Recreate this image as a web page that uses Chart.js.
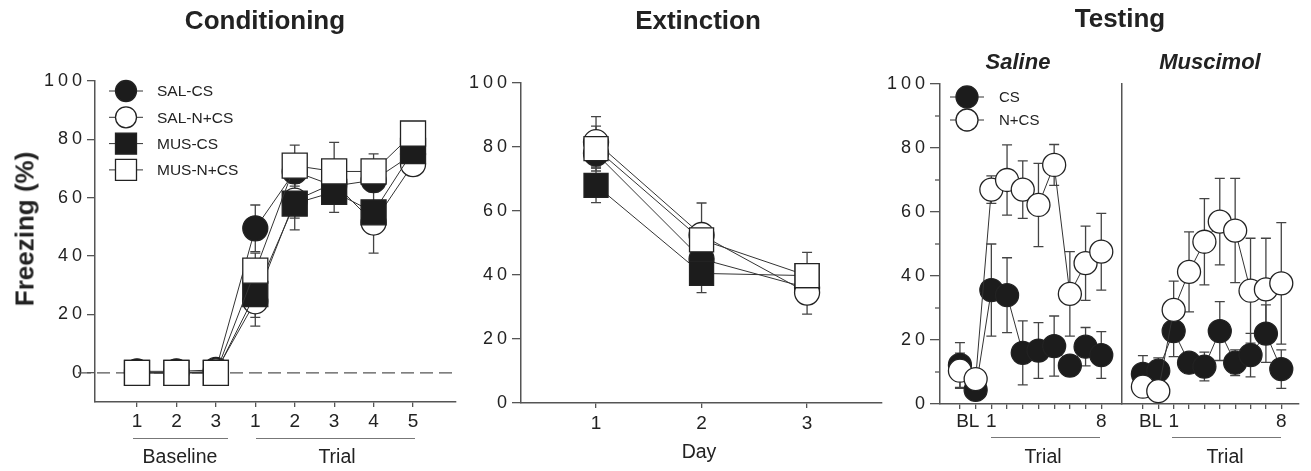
<!DOCTYPE html>
<html>
<head>
<meta charset="utf-8">
<script src="https://cdn.jsdelivr.net/npm/chart.js@4.4.0/dist/chart.umd.min.js"></script>
<style>
  body { margin: 0; background: #fff; font-family: "Liberation Sans", Arial, Helvetica, sans-serif; color: #222; }
  #wrap { position: relative; width: 1311px; height: 471px; overflow: hidden; }
  canvas { position: absolute; left: 0; top: 0; }
  .lbl { position: absolute; white-space: nowrap; transform: translate(-50%, -50%); font-size: 19.5px; }
  .title { font-weight: bold; font-size: 26px; }
  .sub { font-weight: bold; font-style: italic; font-size: 22px; }
  .rule { position: absolute; height: 0; border-top: 1.5px solid #777; }
</style>
</head>
<body>
<div id="wrap">
  <canvas id="cond" width="1311" height="471"></canvas>
  <canvas id="ext" width="1311" height="471"></canvas>
  <canvas id="sal" width="1311" height="471"></canvas>
  <canvas id="mus" width="1311" height="471"></canvas>

  <div class="lbl title" style="left:265px;top:20px">Conditioning</div>
  <div class="lbl title" style="left:698px;top:20px">Extinction</div>
  <div class="lbl title" style="left:1120px;top:18px">Testing</div>
  <div class="lbl sub" style="left:1018px;top:62px">Saline</div>
  <div class="lbl sub" style="left:1210px;top:62px">Muscimol</div>
  <div class="lbl title" style="left:25px;top:229px;transform:translate(-50%,-50%) rotate(-90deg)">Freezing (%)</div>

  <div class="rule" style="left:133px;top:438px;width:95px"></div>
  <div class="rule" style="left:256px;top:438px;width:159px"></div>
  <div class="lbl" style="left:180px;top:456px">Baseline</div>
  <div class="lbl" style="left:337px;top:456px">Trial</div>
  <div class="lbl" style="left:699px;top:451px">Day</div>
  <div class="rule" style="left:991px;top:437px;width:109px"></div>
  <div class="rule" style="left:1172px;top:437px;width:109px"></div>
  <div class="lbl" style="left:1043px;top:456px">Trial</div>
  <div class="lbl" style="left:1225px;top:456px">Trial</div>
</div>
<script>
// ---- data ----
const condSeries = ["SAL-CS", "SAL-N+CS", "MUS-CS", "MUS-N+CS"];
const condX = [1, 2, 3, 4, 5, 6, 7, 8];
const condTickLabels = ["1", "2", "3", "1", "2", "3", "4", "5"];
const condSalCs = [0.5, 0.5, 1, 49.5, 69, 64, 66, 75];
const condSalCsErr = [0, 0, 0, 8, 4, 5, 3, 3];
const condSalNcs = [0, 0, 0.5, 24.5, 59, 65, 51.5, 71.5];
const condSalNcsErr = [0, 0, 0, 8.5, 6, 4, 10.5, 3];
const condMusCs = [0, 0, 0, 27, 58, 62, 55, 76];
const condMusCsErr = [0, 0, 0, 8, 9, 7, 4, 3];
const condMusNcs = [0, 0, 0, 35, 71, 69, 69, 82];
const condMusNcsErr = [0, 0, 0, 6, 7, 10, 6, 3];

const extX = [1, 2, 3];
const extSalCs = [78, 45, 36];
const extSalCsErr = [4, 5, 3];
const extSalNcs = [81.5, 52.5, 34.5];
const extSalNcsErr = [8, 10, 6.7];
const extMusCs = [68, 40.5, 39.8];
const extMusCsErr = [5.4, 6, 3];
const extMusNcs = [79.5, 51, 39.8];
const extMusNcsErr = [7, 5, 7.3];

const testSeries = ["CS", "N+CS"];
const testX = [0, 1, 2, 3, 4, 5, 6, 7, 8, 9];
const testLabelPos = [0.5, 2, 9];
const testLabelText = ["BL", "1", "8"];
const salCs = [12.2, 4.4, 35.6, 34, 16, 16.7, 18.1, 12, 17.9, 15.3];
const salCsErr = [7, 2, 14.4, 11.7, 10, 8.7, 9.4, 3, 6, 7.3];
const salNcs = [10.4, 7.8, 67, 70, 67, 62.2, 74.7, 34.4, 44, 47.6];
const salNcsErr = [5.5, 3, 4.3, 11, 9, 13, 6.4, 13.2, 11.6, 12];
const musCs = [9.4, 10.4, 22.8, 12.9, 11.7, 22.8, 12.9, 15.3, 22, 10.9];
const musCsErr = [5.7, 4, 8, 3, 4.5, 9.2, 4, 6.8, 9, 6];
const musNcs = [5.4, 4, 29.4, 41.3, 50.7, 57, 54.2, 35.4, 35.8, 37.7];
const musNcsErr = [3, 2, 9, 12.5, 13.5, 13.5, 16.3, 16.4, 16, 19];

const yTicks = [0, 20, 40, 60, 80, 100];
const yMinorTicks = [10, 30, 50, 70, 90];

// ---- helpers ----
const W = 1311, H = 471;
const FONT = '"Liberation Sans", Arial, Helvetica, sans-serif';
const AXIS = "#555";
const INK = "#222";
const BLACK = "#1c1c1c";
const WHITE = "#ffffff";

const errorBars = {
  id: "errorBars",
  beforeDatasetsDraw(chart) {
    const { ctx, scales: { x, y } } = chart;
    ctx.save();
    ctx.strokeStyle = "#444";
    ctx.lineWidth = 1.3;
    chart.data.datasets.forEach((ds) => {
      if (!ds.errors) return;
      ds.data.forEach((p, i) => {
        const e = ds.errors[i];
        if (!e) return;
        const px = x.getPixelForValue(p.x);
        const top = y.getPixelForValue(p.y + e);
        const bot = y.getPixelForValue(p.y - e);
        ctx.beginPath();
        ctx.moveTo(px, top); ctx.lineTo(px, bot);
        ctx.moveTo(px - 5, top); ctx.lineTo(px + 5, top);
        ctx.moveTo(px - 5, bot); ctx.lineTo(px + 5, bot);
        ctx.stroke();
      });
    });
    ctx.restore();
  },
};

const zeroLine = {
  id: "zeroLine",
  beforeDatasetsDraw(chart, args, opts) {
    if (!opts.show) return;
    const { ctx, chartArea, scales: { y } } = chart;
    const py = y.getPixelForValue(0);
    ctx.save();
    ctx.setLineDash([13, 6]);
    ctx.strokeStyle = "#555";
    ctx.lineWidth = 1.3;
    ctx.beginPath();
    ctx.moveTo(chartArea.left - 17, py);
    ctx.lineTo(chartArea.right - 4, py);
    ctx.stroke();
    ctx.restore();
  },
};

const extras = {
  id: "extras",
  beforeDraw(chart, args, opts) {
    // wide tracking of the tick numbers
    chart.ctx.letterSpacing = opts.spacing || "0px";
  },
  afterDraw(chart, args, opts) {
    const { ctx, chartArea, scales: { x, y } } = chart;
    ctx.save();
    ctx.letterSpacing = "0px";
    if (opts.minor) {
      ctx.strokeStyle = AXIS;
      ctx.lineWidth = 1.3;
      opts.minor.forEach((v) => {
        const py = y.getPixelForValue(v);
        ctx.beginPath();
        ctx.moveTo(chartArea.left - 5, py);
        ctx.lineTo(chartArea.left, py);
        ctx.stroke();
      });
    }
    if (opts.xLabels) {
      ctx.fillStyle = INK;
      ctx.font = "19px " + FONT;
      ctx.textAlign = "center";
      ctx.textBaseline = "middle";
      opts.xLabels.pos.forEach((v, i) => {
        ctx.fillText(opts.xLabels.text[i], x.getPixelForValue(v), 422);
      });
    }
    if (opts.legend) {
      const L = opts.legend;
      L.items.forEach((it, i) => {
        const cy = L.y + i * L.gap;
        ctx.strokeStyle = "#333";
        ctx.lineWidth = 1;
        ctx.beginPath();
        ctx.moveTo(L.x - 17, cy);
        ctx.lineTo(L.x + 17, cy);
        ctx.stroke();
        ctx.fillStyle = it.fill;
        ctx.strokeStyle = INK;
        ctx.lineWidth = 1.3;
        ctx.beginPath();
        if (it.shape === "rect") ctx.rect(L.x - L.size / 2, cy - L.size / 2, L.size, L.size);
        else ctx.arc(L.x, cy, L.size / 2, 0, Math.PI * 2);
        ctx.fill();
        ctx.stroke();
        ctx.fillStyle = INK;
        ctx.font = L.font + " " + FONT;
        ctx.textAlign = "left";
        ctx.textBaseline = "middle";
        ctx.fillText(it.label, L.textX, cy + 1);
      });
    }
    ctx.restore();
  },
};

Chart.register(errorBars, zeroLine, extras);

function series(label, xs, ys, errs, shape, fill, radius, order) {
  return {
    label,
    data: xs.map((x, i) => ({ x, y: ys[i] })),
    errors: errs,
    borderColor: "#333",
    borderWidth: 1,
    pointStyle: shape,
    pointRadius: radius,
    pointBackgroundColor: fill,
    pointBorderColor: INK,
    pointBorderWidth: 1.3,
    order,
    clip: false,
    tension: 0,
  };
}

// scale boxes fill the space outside the plot area, so their labels are not clipped
function xAxis(area, min, max, ticks, labels, pad) {
  return {
    type: "linear", min, max,
    afterFit: (s) => { s.height = H - area[3]; },
    afterBuildTicks: (s) => { s.ticks = ticks.map((v) => ({ value: v })); },
    ticks: {
      autoSkip: false, maxRotation: 0, padding: pad, labelOffset: 2, color: INK,
      font: { family: FONT, size: 19 },
      callback: (v, i) => (labels ? labels[i] : ""),
    },
    grid: { drawOnChartArea: false, drawTicks: true, tickLength: 5, color: AXIS, lineWidth: 1.3 },
    border: { display: true, color: AXIS, width: 1.5 },
  };
}

function yAxis(area, min, max, show, tickLen) {
  return {
    type: "linear", min, max,
    afterFit: (s) => { s.width = area[0]; },
    afterBuildTicks: (s) => { s.ticks = yTicks.map((v) => ({ value: v })); },
    ticks: { display: show, padding: 1, color: INK, font: { family: FONT, size: 18 } },
    grid: { display: show, drawOnChartArea: false, drawTicks: true, tickLength: tickLen, color: AXIS, lineWidth: 1.3 },
    border: { display: true, color: AXIS, width: 1.5 },
  };
}

function panel(id, area, xr, xTicks, xLabels, xPad, showY, yMin, yLen, datasets, pluginOpts) {
  return new Chart(document.getElementById(id), {
    type: "line",
    data: { datasets },
    options: {
      responsive: false,
      animation: false,
      events: [],
      layout: { padding: { left: 0, top: area[1], right: W - area[2], bottom: 0 } },
      plugins: Object.assign({ legend: { display: false }, tooltip: { enabled: false } }, pluginOpts),
      scales: {
        x: xAxis(area, xr[0], xr[1], xTicks, xLabels, xPad),
        y: yAxis(area, yMin, 100, showY, yLen),
      },
    },
  });
}

// ---- Conditioning ----
const condArea = [95, 81, 456, 402];
panel("cond", condArea, [-0.065, 9.09], condX, condTickLabels, 3, true, -10, 8,
  [
    series(condSeries[0], condX, condSalCs, condSalCsErr, "circle", BLACK, 12.5, 3),
    series(condSeries[1], condX, condSalNcs, condSalNcsErr, "circle", WHITE, 12.5, 2),
    series(condSeries[2], condX, condMusCs, condMusCsErr, "rect", BLACK, 17.7, 1),
    series(condSeries[3], condX, condMusNcs, condMusNcsErr, "rect", WHITE, 17.7, 0),
  ],
  {
    zeroLine: { show: true },
    extras: {
      spacing: "4px",
      legend: {
        x: 126, y: 91, gap: 26.3, size: 21, textX: 157, font: "15.5px",
        items: [
          { label: condSeries[0], shape: "circle", fill: BLACK },
          { label: condSeries[1], shape: "circle", fill: WHITE },
          { label: condSeries[2], shape: "rect", fill: BLACK },
          { label: condSeries[3], shape: "rect", fill: WHITE },
        ],
      },
    },
  });

// ---- Extinction ----
const extArea = [521, 83, 882, 403];
panel("ext", extArea, [0.289, 3.71], extX, extX.map(String), 4, true, 0, 9,
  [
    series(condSeries[0], extX, extSalCs, extSalCsErr, "circle", BLACK, 12.5, 3),
    series(condSeries[1], extX, extSalNcs, extSalNcsErr, "circle", WHITE, 12.5, 2),
    series(condSeries[2], extX, extMusCs, extMusCsErr, "rect", BLACK, 17, 1),
    series(condSeries[3], extX, extMusNcs, extMusNcsErr, "rect", WHITE, 17, 0),
  ],
  { extras: { spacing: "4px" } });

// ---- Testing: Saline ----
const salArea = [940, 84, 1122, 404];
panel("sal", salArea, [-1.27, 10.32], testX, null, 2, true, 0, 10,
  [
    series(testSeries[0], testX, salCs, salCsErr, "circle", BLACK, 11.5, 1),
    series(testSeries[1], testX, salNcs, salNcsErr, "circle", WHITE, 11.5, 0),
  ],
  {
    extras: {
      spacing: "4px",
      minor: yMinorTicks,
      xLabels: { pos: testLabelPos, text: testLabelText },
      legend: {
        x: 967, y: 97, gap: 23, size: 22, textX: 999, font: "15px",
        items: [
          { label: testSeries[0], shape: "circle", fill: BLACK },
          { label: testSeries[1], shape: "circle", fill: WHITE },
        ],
      },
    },
  });

// ---- Testing: Muscimol ----
const musArea = [1122, 84, 1302, 404];
panel("mus", musArea, [-1.36, 10.1], testX, null, 2, false, 0, 0,
  [
    series(testSeries[0], testX, musCs, musCsErr, "circle", BLACK, 11.5, 1),
    series(testSeries[1], testX, musNcs, musNcsErr, "circle", WHITE, 11.5, 0),
  ],
  { extras: { xLabels: { pos: testLabelPos, text: testLabelText } } });
</script>
</body>
</html>
